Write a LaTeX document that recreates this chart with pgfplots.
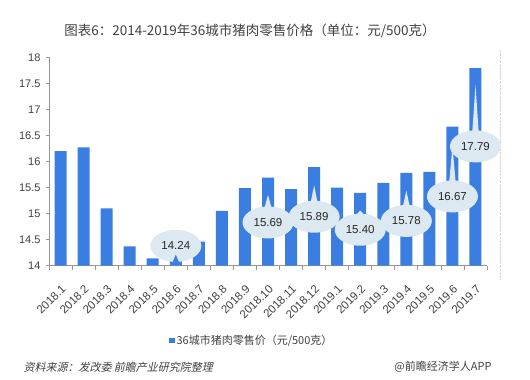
\documentclass[border=0pt]{standalone}
\usepackage{pgfplots}
\pgfplotsset{compat=1.18}
\usepackage{pgfplotstable}
\usetikzlibrary{shapes.callouts}
\usepackage{fontspec}
\setmainfont{Liberation Sans}
\newfontfamily\cjk{Noto Sans CJK SC}
\newfontfamily\cjkit[FakeSlant=0.22]{Noto Sans CJK SC}
\definecolor{barblue}{RGB}{58,126,226}
\definecolor{bubble}{RGB}{220,233,241}
\definecolor{txt}{RGB}{64,64,64}
\definecolor{axgray}{RGB}{150,150,150}

\pgfplotstableread{
x  y
1  16.20
2  16.27
3  15.10
4  14.37
5  14.14
6  14.24
7  14.46
8  15.05
9  15.49
10 15.69
11 15.47
12 15.89
13 15.50
14 15.40
15 15.59
16 15.78
17 15.80
18 16.67
19 17.79
}\pricedata

\begin{document}
\begin{tikzpicture}[x=1bp,y=1bp]
\path[use as bounding box] (0,0) rectangle (530,379);
\draw[black!18, densely dotted] (500,100) -- (500,330);
\node[txt, font=\fontsize{13.5bp}{16bp}\selectfont\cjk] at (250,348) {图表6：2014-2019年36城市猪肉零售价格（单位：元/500克）};
\begin{axis}[
  at={(49bp,113.3bp)}, anchor=south west,
  scale only axis, width=438bp, height=208.4bp,
  xmin=0.5, xmax=19.5, ymin=14, ymax=18,
  ytick={14,14.5,...,18},
  xtick={1,...,19},
  xticklabels={2018.1,2018.2,2018.3,2018.4,2018.5,2018.6,2018.7,2018.8,2018.9,2018.10,2018.11,2018.12,2019.1,2019.2,2019.3,2019.4,2019.5,2019.6,2019.7},
  minor xtick={0.5,1.5,...,19.5},
  axis x line*=bottom, axis y line*=left,
  axis line style={axgray, line width=0.8pt},
  every tick/.style={axgray, line width=0.8pt},
  tick align=outside,
  major tick length=3bp, minor tick length=4bp,
  x tick style={draw=none}, 
  minor x tick style={axgray, draw, line width=0.8pt},
  /pgf/number format/assume math mode=true,
  /pgf/number format/fixed,
  yticklabel style={font=\fontsize{11bp}{13bp}\selectfont, text=txt, xshift=-2bp},
  xticklabel style={xshift=5.5bp, yshift=-16bp, rotate=45, anchor=east, font=\fontsize{11.5bp}{13bp}\selectfont, text=txt},
  legend style={at={(0.463,-0.36)}, anchor=center, draw=none, fill=none, font=\fontsize{11bp}{13bp}\selectfont\cjk, text=txt},
  legend image code/.code={\fill[barblue] (0bp,-2.7bp) rectangle (5.4bp,2.7bp);},
  clip=true,
]
\addplot[ybar, bar width=0.52, fill=barblue, draw=none] table[x=x,y=y] {\pricedata};
\addlegendentry{36城市猪肉零售价（元/500克）}
\end{axis}
\begin{axis}[
  at={(49bp,113.3bp)}, anchor=south west,
  scale only axis, width=438bp, height=208.4bp,
  xmin=0.5, xmax=19.5, ymin=14, ymax=18,
  hide axis, clip=false,
]
\tikzset{bub/.style={ellipse callout, fill=bubble, draw=none, minimum width=51bp, minimum height=32bp, inner sep=0pt, text=black!85, font=\fontsize{11.5bp}{13bp}\selectfont, callout pointer arc=14}}
\node[bub, callout absolute pointer={(axis cs:6,14.22)}] at (axis cs:6,14.38) {14.24};
\node[bub, callout absolute pointer={(axis cs:10,15.36)}] at (axis cs:10,14.83) {15.69};
\node[bub, callout absolute pointer={(axis cs:12,15.54)}] at (axis cs:12,14.94) {15.89};
\node[bub, callout absolute pointer={(axis cs:14,15.06)}] at (axis cs:14,14.69) {15.40};
\node[bub, callout absolute pointer={(axis cs:16,15.44)}] at (axis cs:16,14.86) {15.78};
\node[bub, callout absolute pointer={(axis cs:18,16.30)}] at (axis cs:18,15.33) {16.67};
\node[bub, callout absolute pointer={(axis cs:19,17.47)}] at (axis cs:19,16.29) {17.79};
\end{axis}
\node[txt, anchor=west, font=\fontsize{11bp}{13bp}\selectfont\cjkit] at (20,12) {资料来源：发改委 前瞻产业研究院整理};
\node[txt, anchor=east, font=\fontsize{11bp}{13bp}\selectfont\cjk] at (495,12) {@前瞻经济学人APP};
\end{tikzpicture}
\end{document}
